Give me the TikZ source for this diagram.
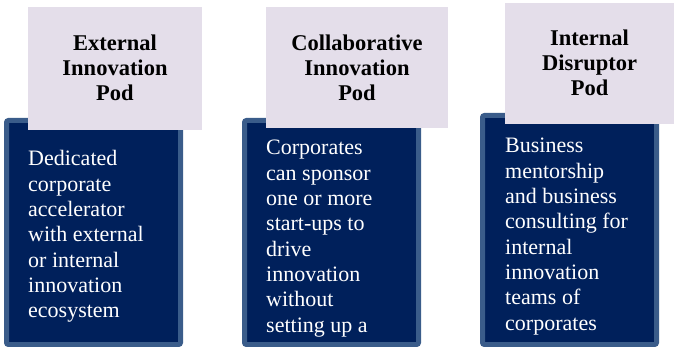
\documentclass[tikz,border=0pt]{standalone}
\usepackage{fontspec}
\setmainfont{Liberation Serif}
\definecolor{navy}{RGB}{0,32,91}
\definecolor{podborder}{RGB}{58,92,138}
\definecolor{lilac}{RGB}{228,222,234}
\begin{document}
\begin{tikzpicture}[x=1pt,y=-1pt,
  podbox/.style={draw=podborder,fill=navy,line width=5pt,rounded corners=2pt},
  headbox/.style={fill=lilac,draw=none},
  headtext/.style={align=center,font=\fontsize{22.5}{25.3}\selectfont\bfseries,text=black,inner sep=0pt},
  bodytext/.style={anchor=base west,inner sep=0pt,text=white,font=\fontsize{22}{25.3}\selectfont}]
\useasboundingbox (0,0) rectangle (674,347);
% pod 1
\draw[podbox] (6.5,120.5) rectangle (180.5,344.5);
\fill[lilac] (28,7) rectangle (202,130);
\node[headtext] (h1) at (115,68) {External\\Innovation\\Pod};
\node[bodytext] (b1) at (28,166) {\parbox[t]{150pt}{\raggedright\fontsize{22}{25.3}\selectfont Dedicated\\corporate\\accelerator\\with external\\or internal\\innovation\\ecosystem}};
% pod 2
\draw[podbox] (244.5,120.5) rectangle (418.5,344.5);
\fill[lilac] (266,7) rectangle (448,128);
\node[headtext] (h2) at (357,68) {Collaborative\\Innovation\\Pod};
\node[bodytext] (b2) at (266,155) {\parbox[t]{150pt}{\raggedright\fontsize{22}{25.3}\selectfont Corporates\\can sponsor\\one or more\\start-ups to\\drive\\innovation\\without\\setting up a}};
% pod 3
\draw[podbox] (482.5,115.5) rectangle (656.5,344.5);
\fill[lilac] (505,3) rectangle (674,124);
\node[headtext] (h3) at (589.5,63) {Internal\\Disruptor\\Pod};
\node[bodytext] (b3) at (505,153) {\parbox[t]{150pt}{\raggedright\fontsize{22}{25.3}\selectfont Business\\mentorship\\and business\\consulting for\\internal\\innovation\\teams of\\corporates}};
\end{tikzpicture}
\end{document}
